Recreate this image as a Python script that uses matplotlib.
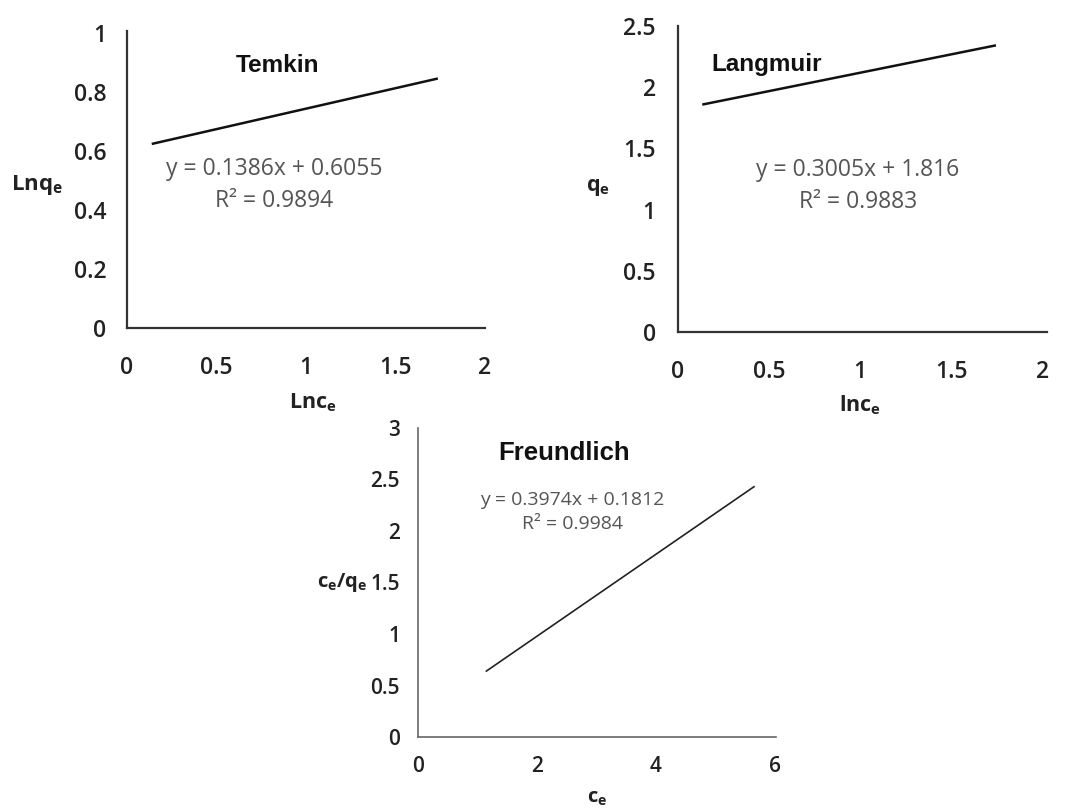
import matplotlib
matplotlib.use("Agg")
import matplotlib.pyplot as plt

# ---- data ----
temkin_x = [0.145, 1.73]
temkin_y = [0.625, 0.845]
langmuir_x = [0.14, 1.74]
langmuir_y = [1.86, 2.34]
freundlich_x = [1.15, 5.65]
freundlich_y = [0.64, 2.43]

temkin_xticks = [0, 0.5, 1, 1.5, 2]
temkin_xlabels = ["0", "0.5", "1", "1.5", "2"]
temkin_yticks = [0, 0.2, 0.4, 0.6, 0.8, 1]
temkin_ylabels = ["0", "0.2", "0.4", "0.6", "0.8", "1"]
langmuir_xticks = [0, 0.5, 1, 1.5, 2]
langmuir_xlabels = ["0", "0.5", "1", "1.5", "2"]
langmuir_yticks = [0, 0.5, 1, 1.5, 2, 2.5]
langmuir_ylabels = ["0", "0.5", "1", "1.5", "2", "2.5"]
freundlich_xticks = [0, 2, 4, 6]
freundlich_xlabels = ["0", "2", "4", "6"]
freundlich_yticks = [0, 0.5, 1, 1.5, 2, 2.5, 3]
freundlich_ylabels = ["0", "0.5", "1", "1.5", "2", "2.5", "3"]

titles = ["Temkin", "Langmuir", "Freundlich"]
equations = ["y = 0.1386x + 0.6055\nR\u00b2 = 0.9894",
             "y = 0.3005x + 1.816\nR\u00b2 = 0.9883",
             "y = 0.3974x + 0.1812\nR\u00b2 = 0.9984"]
xlabels = [r"Lnc$_\mathrm{e}$", r"lnc$_\mathrm{e}$", r"c$_\mathrm{e}$"]
ylabels = [r"Lnq$_\mathrm{e}$", r"q$_\mathrm{e}$", r"c$_\mathrm{e}$/q$_\mathrm{e}$"]

plt.rcParams["mathtext.fontset"] = "custom"
plt.rcParams["mathtext.rm"] = "Open Sans:bold"
plt.rcParams["mathtext.it"] = "Open Sans:bold"

W, H = 1065, 810
fig = plt.figure(figsize=(W / 100, H / 100), dpi=100)


def fx(px):
    return px / W


def fy(py):
    return 1 - py / H


def make_axes(x0, x1, y0, y1):
    return fig.add_axes([fx(x0), fy(y0), fx(x1) - fx(x0), fy(y1) - fy(y0)])


def style(ax, spine_color, lw, tick_fs, xpad, ypad):
    for s in ["top", "right"]:
        ax.spines[s].set_visible(False)
    for s in ["left", "bottom"]:
        ax.spines[s].set_color(spine_color)
        ax.spines[s].set_linewidth(lw)
    ax.tick_params(axis="both", length=0, colors="#222222", labelsize=tick_fs)
    ax.tick_params(axis="x", pad=xpad)
    ax.tick_params(axis="y", pad=ypad)
    for lab in ax.get_xticklabels() + ax.get_yticklabels():
        lab.set_fontfamily("Open Sans")
        lab.set_fontweight("semibold")
    ax.patch.set_alpha(0)


# Temkin
ax1 = make_axes(127, 485, 328, 31)
ax1.plot(temkin_x, temkin_y, color="#111111", lw=1.8)
ax1.set_xlim(0, 2)
ax1.set_ylim(0, 1.007)
ax1.set_xticks(temkin_xticks, temkin_xlabels)
ax1.set_yticks(temkin_yticks, temkin_ylabels)
style(ax1, "#333333", 1.6, 16.5, 20, 15)

# Langmuir
ax2 = make_axes(678, 1047, 332, 26)
ax2.plot(langmuir_x, langmuir_y, color="#111111", lw=1.8)
ax2.set_xlim(0, 2.027)
ax2.set_ylim(0, 2.5)
ax2.set_xticks(langmuir_xticks, langmuir_xlabels)
ax2.set_yticks(langmuir_yticks, langmuir_ylabels)
style(ax2, "#333333", 1.6, 16.5, 20, 16)

# Freundlich
ax3 = make_axes(418, 776, 737, 428)
ax3.plot(freundlich_x, freundlich_y, color="#222222", lw=1.2)
ax3.set_xlim(0, 6.02)
ax3.set_ylim(0, 3)
ax3.set_xticks(freundlich_xticks, freundlich_xlabels)
ax3.set_yticks(freundlich_yticks, freundlich_ylabels)
style(ax3, "#666666", 1.2, 15, 14, 13)

# titles
title_pos = [(277, 65, 17.5), (767, 65, 17.5), (564, 453, 18.5)]
for t, (px, py, fs) in zip(titles, title_pos):
    fig.text(fx(px), fy(py), t, ha="center", va="center", fontsize=fs,
             fontweight="bold", family="Liberation Sans", color="#111111")

# equations
eq_pos = [(274, 185, 16.5, 1.4), (858, 186, 16.5, 1.4), (572, 512, 14, 1.38)]
for t, (px, py, fs, ls) in zip(equations, eq_pos):
    fig.text(fx(px), fy(py), t, ha="center", va="center", fontsize=fs,
             family="Open Sans", color="#555555", linespacing=ls)

# axis labels
xl_pos = [(313, 403, 15.5), (860, 405, 15.5), (597, 798, 14.5)]
for t, (px, py, fs) in zip(xlabels, xl_pos):
    fig.text(fx(px), fy(py), t, ha="center", va="center", fontsize=fs,
             fontweight="bold", family="Open Sans", color="#222222")
yl_pos = [(37, 185, 16), (598, 187, 15.5), (342, 583, 14.5)]
for t, (px, py, fs) in zip(ylabels, yl_pos):
    fig.text(fx(px), fy(py), t, ha="center", va="center", fontsize=fs,
             fontweight="bold", family="Open Sans", color="#222222")

fig.savefig("out.png", dpi=100, facecolor="white")
